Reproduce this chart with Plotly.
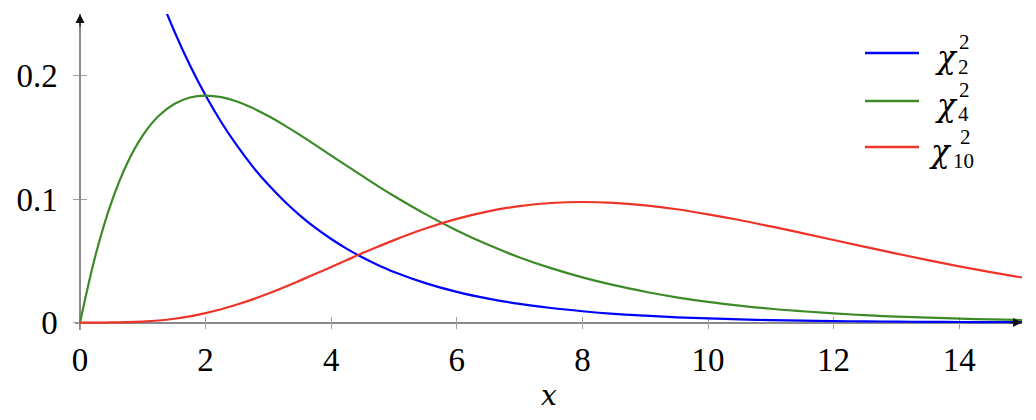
import plotly.graph_objects as go

# ---- data ----
x_vals = [0, 0.25, 0.5, 0.75, 1, 1.25, 1.5, 1.75, 2, 2.25, 2.5, 2.75, 3, 3.25, 3.5, 3.75,
          4, 4.25, 4.5, 4.75, 5, 5.5, 6, 6.5, 7, 7.5, 8, 8.5, 9, 9.5, 10, 10.5, 11,
          11.5, 12, 12.5, 13, 13.5, 14, 14.5, 15]
chi2_k2 = [0.5, 0.4412, 0.3894, 0.3437, 0.3033, 0.2676, 0.2362, 0.2084, 0.1839, 0.1623,
           0.1433, 0.1264, 0.1116, 0.0985, 0.0869, 0.0767, 0.0677, 0.0597, 0.0527,
           0.0465, 0.0410, 0.0320, 0.0249, 0.0194, 0.0151, 0.0118, 0.0092, 0.0071,
           0.0056, 0.0043, 0.0034, 0.0026, 0.0020, 0.0016, 0.0012, 0.0010, 0.0008,
           0.0006, 0.0005, 0.0004, 0.0003]
chi2_k4 = [0.0, 0.0552, 0.0974, 0.1289, 0.1516, 0.1673, 0.1771, 0.1824, 0.1839, 0.1826,
           0.1791, 0.1738, 0.1673, 0.1600, 0.1521, 0.1438, 0.1353, 0.1269, 0.1186,
           0.1104, 0.1026, 0.0879, 0.0747, 0.0630, 0.0528, 0.0441, 0.0366, 0.0303,
           0.0250, 0.0205, 0.0168, 0.0138, 0.0112, 0.0092, 0.0074, 0.0060, 0.0049,
           0.0040, 0.0032, 0.0026, 0.0021]
chi2_k10 = [0.0, 0.0, 0.0001, 0.0003, 0.0008, 0.0017, 0.0031, 0.0051, 0.0077, 0.0108,
            0.0146, 0.0188, 0.0235, 0.0286, 0.0340, 0.0395, 0.0451, 0.0507, 0.0563,
            0.0616, 0.0668, 0.0762, 0.0840, 0.0901, 0.0944, 0.0969, 0.0977, 0.0970,
            0.0949, 0.0918, 0.0877, 0.0831, 0.0779, 0.0725, 0.0669, 0.0614, 0.0559,
            0.0506, 0.0456, 0.0409, 0.0365]
x_ticks = [0, 2, 4, 6, 8, 10, 12, 14]
y_ticks = [0, 0.1, 0.2]
y_tick_labels = ["0", "0.1", "0.2"]
series_names = ["2", "4", "10"]   # degrees of freedom (legend subscripts)

colors = ["#0000ff", "#3c8a28", "#ee3328"]
FONT = "Liberation Serif"
IFONT = "DejaVu Serif"

# page has an 8px body margin: size the figure so it fits the 1036x420 window
OFF = 8
W, H = 1036 - 2 * OFF, 420 - 2 * OFF
ML, MR, MT = 75 - OFF, 6, 14 - OFF
MB = H - (330 - OFF)
PW, PH = W - ML - MR, H - MT - MB
XR = [-0.08, 15]
YR = [-0.006, 0.25]
xpos = (0 - YR[0]) / (YR[1] - YR[0])
ypos = (0 - XR[0]) / (XR[1] - XR[0])


def px(xp):
    return (xp - OFF - ML) / PW


def py(yp):
    return (H - MB - (yp - OFF)) / PH


fig = go.Figure()
for ys, c in zip([chi2_k2, chi2_k4, chi2_k10], colors):
    fig.add_trace(go.Scatter(x=x_vals, y=ys, mode="lines",
                             line=dict(color=c, width=2.2, shape="spline", smoothing=1.0),
                             showlegend=False, hoverinfo="skip"))

axis_common = dict(showgrid=False, zeroline=False, layer="below traces",
                   tickcolor="#a0a0a0", ticklen=6, tickwidth=1)
fig.update_layout(
    width=W, height=H,
    margin=dict(l=ML, r=MR, t=MT, b=MB),
    plot_bgcolor="white", paper_bgcolor="white",
    font=dict(family=FONT, size=33, color="black"),
    xaxis=dict(range=XR, anchor="free", position=xpos, showline=True,
               linecolor="#8a8a8a", linewidth=1.5, ticks="outside",
               tickvals=x_ticks, ticktext=[str(v) for v in x_ticks],
               ticklabelstandoff=2, **axis_common),
    yaxis=dict(range=YR, anchor="free", position=ypos, showline=True,
               linecolor="#8a8a8a", linewidth=1.5, ticks="outside",
               tickvals=y_ticks, ticktext=y_tick_labels,
               ticklabelstandoff=9, **axis_common),
    xaxis2=dict(range=XR, overlaying="x", anchor="free", position=xpos,
                showline=False, ticks="inside", tickvals=x_ticks,
                showticklabels=False, **axis_common),
    yaxis2=dict(range=YR, overlaying="y", anchor="free", position=ypos,
                showline=False, ticks="inside", tickvals=y_ticks,
                showticklabels=False, **axis_common),
)
fig.add_trace(go.Scatter(x=[None], y=[None], xaxis="x2", yaxis="y2",
                         showlegend=False, hoverinfo="skip"))

# axis arrows
fig.add_annotation(x=15, y=0, xref="x", yref="y", ax=-14, ay=0, text="",
                   showarrow=True, arrowhead=2, arrowsize=1.5, arrowwidth=1.2,
                   arrowcolor="#111111")
fig.add_annotation(x=0, y=0.25, xref="x", yref="y", ax=0, ay=14, text="",
                   showarrow=True, arrowhead=2, arrowsize=1.5, arrowwidth=1.2,
                   arrowcolor="#111111")

# x axis title
fig.add_annotation(x=px(549), y=py(395), xref="paper", yref="paper",
                   text="<i>x</i>", showarrow=False,
                   font=dict(family=IFONT, size=28),
                   xanchor="center", yanchor="middle")

# custom legend
rows_line = [53, 101, 147]
chi_box = [(935, 957, 57), (935, 957, 105), (928, 952, 151)]
sup_pos = [(958, 41.5), (958, 89.5), (959, 137)]
sub_pos = [(957, 66.5), (957, 113.5), (952, 160.5)]
for name, c, ly, cb, sp, sb in zip(series_names, colors, rows_line, chi_box, sup_pos, sub_pos):
    fig.add_shape(type="line", xref="paper", yref="paper",
                  x0=px(865), x1=px(919), y0=py(ly), y1=py(ly),
                  line=dict(color=c, width=2.5))
    fig.add_annotation(x=px((cb[0] + cb[1]) / 2), y=py(cb[2]), xref="paper", yref="paper",
                       text="<i>χ</i>", showarrow=False, borderpad=0,
                       font=dict(family=IFONT, size=31),
                       xanchor="center", yanchor="middle")
    fig.add_annotation(x=px(sp[0]), y=py(sp[1]), xref="paper", yref="paper",
                       text="2", showarrow=False, font=dict(size=21), borderpad=0,
                       xanchor="left", yanchor="middle")
    fig.add_annotation(x=px(sb[0]), y=py(sb[1]), xref="paper", yref="paper",
                       text=name, showarrow=False, font=dict(size=21), borderpad=0,
                       xanchor="left", yanchor="middle")

fig.write_html("out.html")
